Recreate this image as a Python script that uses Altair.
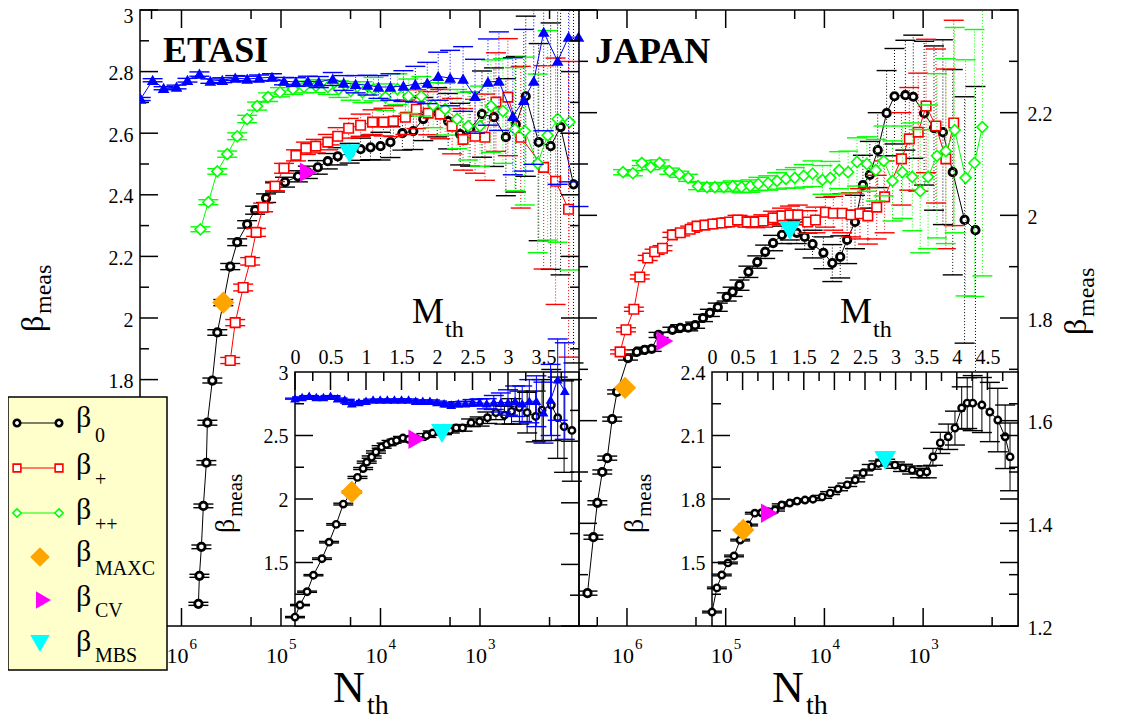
import altair as alt
import pandas as pd

FONT = "Liberation Serif"
W, H = 878, 616

# ---------------- ETASI, main panel (x = log10 N_th) ----------------
etasi_b0_logN = [5.83, 5.82, 5.80, 5.78, 5.75, 5.74, 5.69, 5.64, 5.58, 5.51, 5.44, 5.34, 5.26, 5.15, 5.06, 4.96,
                 4.83, 4.73, 4.63, 4.53, 4.43, 4.31, 4.20, 4.10, 4.00, 3.90, 3.78, 3.67, 3.57, 3.43, 3.32, 3.20,
                 3.10, 2.98, 2.86, 2.74, 2.64, 2.54, 2.41, 2.29, 2.19, 2.06]
etasi_b0_beta = [1.072, 1.163, 1.257, 1.390, 1.530, 1.660, 1.797, 1.953, 2.050, 2.167, 2.246, 2.304, 2.350, 2.389,
                 2.424, 2.441, 2.460, 2.473, 2.489, 2.509, 2.525, 2.535, 2.548, 2.554, 2.558, 2.571, 2.600, 2.607,
                 2.646, 2.668, 2.639, 2.597, 2.613, 2.662, 2.652, 2.587, 2.629, 2.720, 2.571, 2.558, 2.620, 2.434]
etasi_b0_err = [0.005, 0.005, 0.006, 0.006, 0.007, 0.008, 0.008, 0.009, 0.010, 0.010, 0.011, 0.012, 0.013, 0.014,
                0.015, 0.016, 0.018, 0.020, 0.022, 0.025, 0.028, 0.032, 0.036, 0.040, 0.045, 0.050, 0.055, 0.060,
                0.070, 0.080, 0.090, 0.100, 0.120, 0.140, 0.160, 0.190, 0.220, 0.260, 0.320, 0.400, 0.480, 0.580]

etasi_bp_logN = [5.51, 5.46, 5.38, 5.31, 5.25, 5.18, 5.06, 4.97, 4.85, 4.75, 4.65, 4.53, 4.43, 4.32, 4.20, 4.08,
                 3.97, 3.87, 3.75, 3.64, 3.52, 3.40, 3.28, 3.17, 3.05, 2.95, 2.84, 2.72, 2.59, 2.36, 2.24, 2.11]
etasi_bp_beta = [1.862, 1.985, 2.099, 2.184, 2.278, 2.359, 2.428, 2.486, 2.528, 2.551, 2.558, 2.571, 2.590, 2.616,
                 2.626, 2.636, 2.636, 2.639, 2.652, 2.678, 2.665, 2.662, 2.623, 2.580, 2.590, 2.587, 2.701, 2.717,
                 2.587, 2.489, 2.444, 2.353]
etasi_bp_err = [0.010, 0.010, 0.011, 0.012, 0.013, 0.014, 0.015, 0.016, 0.018, 0.020, 0.022, 0.025, 0.028, 0.032,
                0.036, 0.040, 0.045, 0.050, 0.056, 0.063, 0.070, 0.080, 0.090, 0.100, 0.120, 0.140, 0.160, 0.190,
                0.230, 0.330, 0.400, 0.480]

etasi_bpp_logN = [5.81, 5.73, 5.64, 5.54, 5.44, 5.34, 5.24, 5.13, 5.01, 4.88, 4.77, 4.65, 4.53, 4.42, 4.30, 4.18,
                  4.07, 3.95, 3.83, 3.72, 3.59, 3.47, 3.35, 3.23, 3.12, 3.00, 2.89, 2.77, 2.65, 2.55, 2.42, 2.32,
                  2.22, 2.10]
etasi_bpp_beta = [2.288, 2.376, 2.476, 2.532, 2.590, 2.646, 2.688, 2.717, 2.733, 2.743, 2.750, 2.753, 2.750, 2.743,
                  2.737, 2.733, 2.743, 2.717, 2.743, 2.720, 2.720, 2.691, 2.678, 2.646, 2.623, 2.623, 2.688, 2.672,
                  2.613, 2.607, 2.502, 2.593, 2.646, 2.636]
etasi_bpp_err = [0.008, 0.008, 0.009, 0.010, 0.011, 0.012, 0.013, 0.014, 0.015, 0.017, 0.019, 0.021, 0.024, 0.027,
                 0.030, 0.034, 0.038, 0.043, 0.050, 0.056, 0.064, 0.073, 0.084, 0.096, 0.110, 0.130, 0.150, 0.170,
                 0.200, 0.240, 0.290, 0.340, 0.400, 0.480]

etasi_blue_logN = [6.41, 6.29, 6.18, 6.05, 5.94, 5.82, 5.71, 5.59, 5.46, 5.34, 5.22, 5.09, 4.97, 4.85, 4.73, 4.62,
                   4.48, 4.37, 4.25, 4.13, 4.02, 3.90, 3.77, 3.65, 3.53, 3.42, 3.30, 3.17, 3.05, 2.92, 2.81, 2.67,
                   2.56, 2.46, 2.36, 2.22, 2.11, 2.01]
etasi_blue_beta = [2.711, 2.772, 2.746, 2.750, 2.772, 2.792, 2.769, 2.772, 2.779, 2.776, 2.779, 2.782, 2.769, 2.766,
                   2.769, 2.766, 2.776, 2.763, 2.759, 2.756, 2.750, 2.750, 2.753, 2.759, 2.763, 2.785, 2.779, 2.776,
                   2.720, 2.766, 2.769, 2.655, 2.707, 2.769, 2.928, 2.834, 2.912, 2.912]
etasi_blue_err = [0.005, 0.005, 0.005, 0.006, 0.006, 0.007, 0.007, 0.008, 0.008, 0.009, 0.010, 0.011, 0.012, 0.014,
                  0.016, 0.018, 0.021, 0.024, 0.028, 0.032, 0.037, 0.043, 0.050, 0.058, 0.067, 0.078, 0.090, 0.105,
                  0.120, 0.140, 0.160, 0.190, 0.230, 0.270, 0.320, 0.400, 0.470, 0.550]

# ---------------- ETASI inset (x = M_th) ----------------
etasi_in_b0_M = [0.00, 0.07, 0.17, 0.26, 0.38, 0.48, 0.58, 0.68, 0.80, 0.88, 0.96, 1.01, 1.08, 1.14, 1.22, 1.29,
                 1.36, 1.43, 1.52, 1.60, 1.71, 1.85, 1.94, 2.07, 2.18, 2.27, 2.36, 2.48, 2.60, 2.71, 2.83, 2.95,
                 3.05, 3.16, 3.27, 3.39, 3.48, 3.61, 3.70, 3.79, 3.90]
etasi_in_b0_beta = [1.070, 1.165, 1.270, 1.400, 1.530, 1.660, 1.800, 1.960, 2.055, 2.170, 2.240, 2.290, 2.330,
                    2.370, 2.410, 2.430, 2.450, 2.460, 2.480, 2.470, 2.475, 2.500, 2.520, 2.525, 2.540, 2.560,
                    2.560, 2.600, 2.610, 2.640, 2.680, 2.660, 2.690, 2.720, 2.680, 2.650, 2.700, 2.740, 2.640,
                    2.570, 2.540]
etasi_in_b0_err = [0.005, 0.005, 0.005, 0.005, 0.006, 0.006, 0.006, 0.007, 0.007, 0.008, 0.008, 0.008, 0.009,
                   0.009, 0.010, 0.010, 0.011, 0.011, 0.012, 0.012, 0.013, 0.015, 0.016, 0.018, 0.020, 0.023,
                   0.026, 0.030, 0.036, 0.045, 0.055, 0.070, 0.100, 0.130, 0.160, 0.200, 0.240, 0.280, 0.320,
                   0.360, 0.400]

etasi_in_blue_M = [0.0, 0.1, 0.2, 0.3, 0.4, 0.5, 0.6, 0.7, 0.8, 0.9, 1.0, 1.1, 1.2, 1.3, 1.4, 1.5, 1.6, 1.7, 1.8,
                   1.9, 2.0, 2.1, 2.2, 2.3, 2.4, 2.5, 2.6, 2.7, 2.8, 2.9, 3.0, 3.1, 3.2, 3.3, 3.4, 3.5, 3.6, 3.7, 3.8]
etasi_in_blue_beta = [2.790, 2.800, 2.810, 2.800, 2.800, 2.810, 2.790, 2.780, 2.750, 2.760, 2.770, 2.780, 2.780,
                      2.780, 2.780, 2.780, 2.780, 2.770, 2.770, 2.770, 2.760, 2.750, 2.740, 2.750, 2.750, 2.760,
                      2.760, 2.750, 2.760, 2.760, 2.760, 2.770, 2.750, 2.770, 2.770, 2.680, 2.780, 2.940, 2.850]
etasi_in_blue_err = [0.004, 0.004, 0.004, 0.004, 0.004, 0.004, 0.005, 0.005, 0.005, 0.005, 0.005, 0.006, 0.006,
                     0.006, 0.007, 0.007, 0.008, 0.008, 0.009, 0.010, 0.011, 0.012, 0.014, 0.016, 0.019, 0.023,
                     0.028, 0.040, 0.055, 0.075, 0.100, 0.120, 0.140, 0.170, 0.200, 0.240, 0.280, 0.320, 0.380]

# ---------------- JAPAN, main panel ----------------
japan_b0_logN = [6.40, 6.34, 6.30, 6.25, 6.20, 6.15, 6.10, 5.99, 5.90, 5.82, 5.75, 5.68, 5.54, 5.46, 5.38, 5.31,
                 5.23, 5.16, 5.08, 4.99, 4.93, 4.86, 4.77, 4.68, 4.60, 4.52, 4.43, 4.35, 4.28, 4.20, 4.12, 4.01,
                 3.92, 3.84, 3.77, 3.69, 3.61, 3.54, 3.46, 3.37, 3.29, 3.18, 3.10, 2.99, 2.89, 2.80, 2.70, 2.58,
                 2.47]
japan_b0_beta = [1.264, 1.373, 1.440, 1.500, 1.527, 1.603, 1.656, 1.722, 1.734, 1.738, 1.740, 1.767, 1.777, 1.781,
                 1.781, 1.786, 1.800, 1.810, 1.821, 1.841, 1.851, 1.864, 1.890, 1.909, 1.929, 1.946, 1.962, 1.971,
                 1.966, 1.958, 1.944, 1.927, 1.907, 1.919, 1.952, 1.987, 2.059, 2.079, 2.127, 2.199, 2.232, 2.234,
                 2.231, 2.199, 2.170, 2.162, 2.084, 1.991, 1.971]
japan_b0_err = [0.004, 0.004, 0.004, 0.004, 0.004, 0.004, 0.004, 0.004, 0.004, 0.005, 0.005, 0.005, 0.005, 0.006,
                0.006, 0.006, 0.007, 0.007, 0.008, 0.008, 0.009, 0.010, 0.011, 0.012, 0.013, 0.015, 0.017, 0.019,
                0.021, 0.024, 0.027, 0.031, 0.036, 0.041, 0.046, 0.052, 0.058, 0.065, 0.073, 0.083, 0.093, 0.107,
                0.120, 0.140, 0.160, 0.180, 0.200, 0.240, 0.280]

japan_bp_logN = [6.07, 6.01, 5.93, 5.87, 5.79, 5.72, 5.64, 5.54, 5.46, 5.36, 5.29, 5.21, 5.13, 5.04, 4.96, 4.88,
                 4.78, 4.70, 4.62, 4.52, 4.43, 4.35, 4.27, 4.17, 4.09, 3.99, 3.91, 3.82, 3.73, 3.64, 3.56, 3.47,
                 3.39, 3.22, 3.14, 3.05, 2.97, 2.87, 2.77, 2.69]
japan_bp_beta = [1.734, 1.777, 1.817, 1.880, 1.917, 1.929, 1.936, 1.962, 1.966, 1.973, 1.979, 1.981, 1.983, 1.985,
                 1.987, 1.991, 1.987, 1.987, 1.989, 1.995, 1.999, 2.001, 2.001, 1.987, 1.991, 2.006, 2.004, 2.004,
                 2.001, 2.003, 1.999, 2.016, 2.036, 2.110, 2.149, 2.162, 2.213, 2.174, 2.110, 2.180]
japan_bp_err = [0.004, 0.004, 0.004, 0.004, 0.005, 0.005, 0.005, 0.005, 0.006, 0.006, 0.006, 0.007, 0.007, 0.008,
                0.008, 0.009, 0.010, 0.011, 0.012, 0.013, 0.015, 0.017, 0.019, 0.022, 0.025, 0.029, 0.033, 0.038,
                0.043, 0.049, 0.055, 0.062, 0.070, 0.090, 0.100, 0.115, 0.130, 0.150, 0.175, 0.200]

japan_bpp_logN = [6.04, 5.94, 5.85, 5.76, 5.67, 5.57, 5.47, 5.38, 5.28, 5.19, 5.11, 5.02, 4.93, 4.84, 4.75, 4.67,
                  4.57, 4.48, 4.39, 4.30, 4.21, 4.12, 4.02, 3.94, 3.85, 3.76, 3.67, 3.57, 3.48, 3.40, 3.31, 3.21,
                  3.11, 3.03, 2.95, 2.86, 2.77, 2.68, 2.57, 2.48, 2.40]
japan_bpp_beta = [2.084, 2.082, 2.102, 2.094, 2.102, 2.086, 2.080, 2.073, 2.057, 2.055, 2.055, 2.055, 2.057, 2.055,
                  2.057, 2.061, 2.063, 2.067, 2.071, 2.073, 2.077, 2.081, 2.069, 2.073, 2.088, 2.084, 2.104, 2.100,
                  2.088, 2.106, 2.067, 2.084, 2.075, 2.047, 2.075, 2.116, 2.125, 2.166, 2.073, 2.102, 2.172]
japan_bpp_err = [0.005, 0.005, 0.005, 0.005, 0.006, 0.006, 0.006, 0.007, 0.007, 0.008, 0.008, 0.009, 0.010, 0.011,
                 0.012, 0.013, 0.014, 0.016, 0.018, 0.020, 0.022, 0.025, 0.028, 0.032, 0.036, 0.041, 0.047, 0.053,
                 0.060, 0.068, 0.078, 0.090, 0.105, 0.120, 0.140, 0.160, 0.180, 0.200, 0.230, 0.260, 0.290]

# ---------------- JAPAN inset ----------------
japan_in_b0_M = [0.00, 0.08, 0.16, 0.26, 0.36, 0.46, 0.59, 0.70, 0.81, 0.92, 1.03, 1.14, 1.27, 1.39, 1.52, 1.65,
                 1.80, 1.93, 2.06, 2.21, 2.34, 2.47, 2.61, 2.72, 2.83, 2.99, 3.12, 3.27, 3.40, 3.51, 3.61, 3.73,
                 3.86, 3.97, 4.08, 4.17, 4.26, 4.41, 4.54, 4.67, 4.79, 4.87]
japan_in_b0_beta = [1.266, 1.380, 1.441, 1.498, 1.531, 1.606, 1.677, 1.733, 1.735, 1.740, 1.748, 1.772, 1.781,
                    1.790, 1.795, 1.799, 1.810, 1.828, 1.847, 1.867, 1.890, 1.923, 1.952, 1.968, 1.975, 1.960,
                    1.947, 1.937, 1.923, 1.928, 1.999, 2.065, 2.094, 2.135, 2.230, 2.253, 2.253, 2.244, 2.211,
                    2.173, 2.094, 1.999]
japan_in_b0_err = [0.004, 0.004, 0.004, 0.004, 0.004, 0.004, 0.004, 0.004, 0.005, 0.005, 0.005, 0.005, 0.005,
                   0.006, 0.006, 0.006, 0.007, 0.007, 0.008, 0.008, 0.009, 0.010, 0.011, 0.012, 0.013, 0.015,
                   0.017, 0.019, 0.022, 0.028, 0.040, 0.050, 0.060, 0.080, 0.100, 0.120, 0.130, 0.130, 0.140,
                   0.150, 0.150, 0.160]

# ---------------- special estimates (MAXC, CV, MBS) ----------------
etasi_special_logN = [5.58, 4.73, 4.31]
etasi_special_beta = [2.050, 2.473, 2.535]
etasi_in_special_M = [0.80, 1.71, 2.07]
etasi_in_special_beta = [2.055, 2.470, 2.520]
japan_special_logN = [6.02, 5.62, 4.35]
japan_special_beta = [1.664, 1.755, 1.971]
japan_in_special_M = [0.51, 0.93, 2.83]
japan_in_special_beta = [1.654, 1.733, 1.984]

decade_exponents = [6, 5, 4, 3]

# ---------------- scales ----------------
def sc(domain, rng_):
    return alt.Scale(domain=domain, range=rng_, zero=False, nice=False)

E_X = sc([2.005, 6.417], [439, 0])
E_Y = sc([1.0, 3.0], [616, 0])
J_X = sc([2.039, 6.486], [878, 439])
J_Y = sc([1.2, 2.4], [616, 0])
EI_X = sc([0, 4], [155, 439])
EI_Y = sc([1, 3], [616, 362])
JI_X = sc([0, 5], [572, 878])
JI_Y = sc([1.2, 2.4], [616, 362])

SPECIAL = [("#FFA500", "diamond", 380), ("#FF00FF", "triangle-right", 260), ("#00FFFF", "triangle-down", 340)]
MAJ, MIN = 18, 9


def series(xs, ys, errs, XS, YS, color, shape, size, filled, dotted, cap=20, sw=1.6):
    df = pd.DataFrame({"i": list(range(len(xs))), "x": xs, "y": ys,
                       "lo": [a - b for a, b in zip(ys, errs)], "hi": [a + b for a, b in zip(ys, errs)]})
    base = alt.Chart(df)
    X = alt.X("x:Q", scale=XS, axis=None)
    out = []
    rk = dict(color=color, strokeWidth=1, clip=True)
    if dotted:
        rk["strokeDash"] = [1, 2]
    out.append(base.mark_rule(**rk).encode(x=X, y=alt.Y("lo:Q", scale=YS, axis=None), y2="hi:Q"))
    for f in ["lo", "hi"]:
        out.append(base.mark_tick(orient="horizontal", size=cap, thickness=1.4, color=color, opacity=1,
                                  clip=True).encode(x=X, y=alt.Y(f + ":Q", scale=YS, axis=None)))
    out.append(base.mark_line(color=color, strokeWidth=1, clip=True).encode(
        x=X, y=alt.Y("y:Q", scale=YS, axis=None), order="i:Q"))
    pk = dict(shape=shape, size=size, opacity=1, strokeWidth=sw, clip=True)
    if filled:
        pk.update(filled=True, fill=color, stroke=color)
    else:
        pk.update(filled=False, fill="white", stroke=color)
    out.append(base.mark_point(**pk).encode(x=X, y=alt.Y("y:Q", scale=YS, axis=None)))
    return out


def specials(xs, ys, XS, YS):
    out = []
    for (c, s, z), xv, yv in zip(SPECIAL, xs, ys):
        df = pd.DataFrame({"x": [xv], "y": [yv]})
        out.append(alt.Chart(df).mark_point(shape=s, size=z, filled=True, fill=c, stroke=c, opacity=1).encode(
            x=alt.X("x:Q", scale=XS, axis=None), y=alt.Y("y:Q", scale=YS, axis=None)))
    return out


def label_axis(channel, S, values, orient, offset, pad, size=20, z=1, loff=0):
    kw = dict(values=values, orient=orient, offset=offset, ticks=False, domain=False, grid=False, labels=True,
              title=None, zindex=z, format="~g", labelFont=FONT, labelFontSize=size, labelColor="black",
              labelPadding=pad, labelFlush=False, labelOverlap=False)
    if loff:
        kw["labelOffset"] = loff
    df = pd.DataFrame({"v": [values[0]]})
    if channel == "x":
        enc = {"x": alt.X("v:Q", scale=S, axis=alt.Axis(**kw))}
    else:
        enc = {"y": alt.Y("v:Q", scale=S, axis=alt.Axis(**kw))}
    return alt.Chart(df).mark_point(opacity=0).encode(**enc)


def xticks(S, values, y0, y1):
    df = pd.DataFrame({"v": values})
    return alt.Chart(df).mark_rule(color="black", strokeWidth=1.5).encode(
        x=alt.X("v:Q", scale=S, axis=None), y=alt.value(y0), y2=alt.value(y1))


def yticks(S, values, x0, x1):
    df = pd.DataFrame({"v": values})
    return alt.Chart(df).mark_rule(color="black", strokeWidth=1.5).encode(
        y=alt.Y("v:Q", scale=S, axis=None), x=alt.value(x0), x2=alt.value(x1))


ONE = pd.DataFrame({"a": [0]})


def txt(s, x, y, size, angle=0, weight="normal", align="left", color="black"):
    kw = dict(text=s, font=FONT, fontSize=size, fontWeight=weight, align=align, baseline="alphabetic",
              color=color)
    if angle:
        kw["angle"] = angle
    return alt.Chart(ONE).mark_text(**kw).encode(x=alt.value(x), y=alt.value(y))


def rng(a, b, step):
    n = int(round((b - a) / step))
    return [round(a + k * step, 3) for k in range(n + 1)]


layers = []

# ETASI left ticks first (the legend box covers their lower part)
layers.append(yticks(E_Y, rng(1.0, 3.0, 0.2), 0, MAJ))
layers.append(yticks(E_Y, rng(1.1, 2.9, 0.2), 0, MIN))

# ETASI main
layers += series(etasi_b0_logN, etasi_b0_beta, etasi_b0_err, E_X, E_Y, "black", "circle", 55, False, True, sw=2.8)
layers += series(etasi_bp_logN, etasi_bp_beta, etasi_bp_err, E_X, E_Y, "#FF0000", "square", 90, False, True)
layers += series(etasi_bpp_logN, etasi_bpp_beta, etasi_bpp_err, E_X, E_Y, "#00FF00", "diamond", 120, False, True)
layers += series(etasi_blue_logN, etasi_blue_beta, etasi_blue_err, E_X, E_Y, "#0000FF", "triangle-up", 80, True, True)
layers += specials(etasi_special_logN, etasi_special_beta, E_X, E_Y)

# JAPAN main
layers += series(japan_b0_logN, japan_b0_beta, japan_b0_err, J_X, J_Y, "black", "circle", 55, False, True, sw=2.8)
layers += series(japan_bp_logN, japan_bp_beta, japan_bp_err, J_X, J_Y, "#FF0000", "square", 90, False, True)
layers += series(japan_bpp_logN, japan_bpp_beta, japan_bpp_err, J_X, J_Y, "#00FF00", "diamond", 120, False, True)
layers += specials(japan_special_logN, japan_special_beta, J_X, J_Y)

# inset boxes
for XS, YS, dom_x, dom_y in [(EI_X, EI_Y, [0, 4], [1, 3]), (JI_X, JI_Y, [0, 5], [1.2, 2.4])]:
    bdf = pd.DataFrame({"x0": [dom_x[0]], "x1": [dom_x[1]], "y0": [dom_y[0]], "y1": [dom_y[1]]})
    layers.append(alt.Chart(bdf).mark_rect(fill="white", stroke="black", strokeWidth=1.5).encode(
        x=alt.X("x0:Q", scale=XS, axis=None), x2="x1:Q", y=alt.Y("y0:Q", scale=YS, axis=None), y2="y1:Q"))

# ETASI inset
layers += series(etasi_in_b0_M, etasi_in_b0_beta, etasi_in_b0_err, EI_X, EI_Y, "black", "circle", 42, False, False, sw=2.4)
layers += series(etasi_in_blue_M, etasi_in_blue_beta, etasi_in_blue_err, EI_X, EI_Y, "#0000FF", "triangle-up", 50, True, False)
layers += specials(etasi_in_special_M, etasi_in_special_beta, EI_X, EI_Y)

# JAPAN inset
layers += series(japan_in_b0_M, japan_in_b0_beta, japan_in_b0_err, JI_X, JI_Y, "black", "circle", 42, False, False, sw=2.4)
layers += specials(japan_in_special_M, japan_in_special_beta, JI_X, JI_Y)

# divider between the two panels
layers.append(alt.Chart(pd.DataFrame({"x": [2.005]})).mark_rule(color="black", strokeWidth=1.5).encode(
    x=alt.X("x:Q", scale=E_X, axis=None)))

# ---------------- ticks (pointing inward, as in the original) ----------------
minor_dec = [6.301, 5.301, 4.301, 3.301, 2.301]
for XS in (E_X, J_X):
    layers.append(xticks(XS, decade_exponents, H - MAJ, H))
    layers.append(xticks(XS, minor_dec, H - MIN, H))
    layers.append(xticks(XS, decade_exponents, 0, MAJ))
    layers.append(xticks(XS, minor_dec, 0, MIN))
# ETASI right mirror / JAPAN left mirror / JAPAN right
layers.append(yticks(E_Y, rng(1.0, 3.0, 0.2), 439 - MAJ, 439))
layers.append(yticks(E_Y, rng(1.1, 2.9, 0.2), 439 - MIN, 439))
layers.append(yticks(J_Y, rng(1.2, 2.4, 0.2), 439, 439 + MAJ))
layers.append(yticks(J_Y, rng(1.3, 2.3, 0.2), 439, 439 + MIN))
layers.append(yticks(J_Y, rng(1.2, 2.4, 0.2), W - MAJ, W))
layers.append(yticks(J_Y, rng(1.3, 2.3, 0.2), W - MIN, W))
# inset ticks
layers.append(xticks(EI_X, rng(0, 3.5, 0.5), 362, 362 + MAJ))
layers.append(xticks(EI_X, rng(0.25, 3.75, 0.5), 362, 362 + MIN))
layers.append(yticks(EI_Y, [1.5, 2.0, 2.5], 155, 155 + MAJ))
layers.append(yticks(EI_Y, [1.25, 1.75, 2.25, 2.75], 155, 155 + MIN))
layers.append(xticks(JI_X, rng(0.5, 4.5, 0.5), 362, 362 + MAJ))
layers.append(xticks(JI_X, rng(0.25, 4.75, 0.5), 362, 362 + MIN))
layers.append(yticks(JI_Y, [1.5, 1.8, 2.1], 572, 572 + MAJ))
layers.append(yticks(JI_Y, [1.35, 1.65, 1.95, 2.25], 572, 572 + MIN))
layers.append(yticks(JI_Y, [1.5, 1.8, 2.1], W - MAJ, W))
layers.append(yticks(JI_Y, [1.35, 1.65, 1.95, 2.25], W - MIN, W))

# ---------------- tick labels ----------------
layers.append(label_axis("y", E_Y, [3.0], "left", 0, 7, z=0, loff=6))
layers.append(label_axis("y", E_Y, rng(1.0, 2.8, 0.2), "left", 0, 7, z=0, loff=2))
layers.append(label_axis("y", J_Y, rng(1.2, 2.2, 0.2), "right", 0, 9, loff=2))
layers.append(label_axis("x", EI_X, rng(0, 3.5, 0.5), "top", -362, 5))
layers.append(label_axis("y", EI_Y, [1.5, 2.0, 2.5, 3.0], "left", -155, 7, loff=1))
layers.append(label_axis("x", JI_X, rng(0, 4.5, 0.5), "top", -362, 5))
layers.append(label_axis("y", JI_Y, [1.5, 1.8, 2.1, 2.4], "left", -572, 7, loff=1))

# decade labels 10^k under the N_th axes
for XS in (E_X, J_X):
    ddf = pd.DataFrame({"e": decade_exponents, "s": [str(e) for e in decade_exponents]})
    layers.append(alt.Chart(ddf).mark_text(text="10", font=FONT, fontSize=22, align="center",
                                           baseline="alphabetic", dx=-4, color="black").encode(
        x=alt.X("e:Q", scale=XS, axis=None), y=alt.value(653)))
    layers.append(alt.Chart(ddf).mark_text(font=FONT, fontSize=15, align="left", baseline="alphabetic",
                                           dx=8, color="black").encode(
        x=alt.X("e:Q", scale=XS, axis=None), y=alt.value(639), text="s:N"))

# ---------------- titles ----------------
layers.append(txt("ETASI", 23, 52, 36, weight="bold"))
layers.append(txt("JAPAN", 455, 53, 36, weight="bold"))
for x0 in (193, 632):
    layers.append(txt("N", x0, 692, 44))
    layers.append(txt("th", x0 + 34, 704, 28))
for x0 in (272, 700):
    layers.append(txt("M", x0, 313, 36))
    layers.append(txt("th", x0 + 33, 327, 24))
# beta_meas (rotated)
for bx, by, bs, ss in [(-97, 322, 32, 24), (946, 325, 32, 24), (94, 523, 28, 21), (503, 523, 28, 21)]:
    layers.append(txt("\u03b2", bx, by, bs, angle=270))
    layers.append(txt("meas", bx + 8, by - int(bs * 0.58), ss, angle=270))

# ---------------- legend ----------------
layers.append(alt.Chart(ONE).mark_rect(fill="#FFFFCC", stroke="black", strokeWidth=1.5).encode(
    x=alt.value(-132), x2=alt.value(27), y=alt.value(387), y2=alt.value(660)))
leg_lines = [(413, "black", "circle", 42, 2.6), (458, "#FF0000", "square", 60, 1.6), (503, "#00FF00", "diamond", 70, 1.6)]
for yy, c, s, z, w in leg_lines:
    layers.append(alt.Chart(ONE).mark_rule(color=c, strokeWidth=1.2).encode(
        x=alt.value(-123), x2=alt.value(-81), y=alt.value(yy)))
    for xx in (-123, -81):
        layers.append(alt.Chart(ONE).mark_point(shape=s, size=z, filled=False, fill="white", stroke=c,
                                                strokeWidth=w, opacity=1).encode(x=alt.value(xx), y=alt.value(yy)))
for (c, s, z), (xx, yy) in zip(SPECIAL, [(-100, 547), (-97, 590), (-100, 633)]):
    layers.append(alt.Chart(ONE).mark_point(shape=s, size=z * 0.75, filled=True, fill=c, stroke=c,
                                            opacity=1).encode(x=alt.value(xx), y=alt.value(yy)))
for by, sub, sy in [(417, "0", 432), (464, "+", 476), (509, "++", 521), (551, "MAXC", 565), (596, "CV", 607),
                    (641, "MBS", 652)]:
    layers.append(txt("\u03b2", -64, by, 30))
    layers.append(txt(sub, -45, sy, 20))

chart = alt.layer(*layers).resolve_scale(x="independent", y="independent").properties(
    width=W, height=H, autosize=alt.AutoSizeParams(type="none"),
    padding={"left": 132, "top": 2, "right": 101, "bottom": 100}, background="white"
).configure_view(stroke="black", strokeWidth=1.5)

chart.save("out.html", embed_options={"renderer": "svg", "actions": False})
